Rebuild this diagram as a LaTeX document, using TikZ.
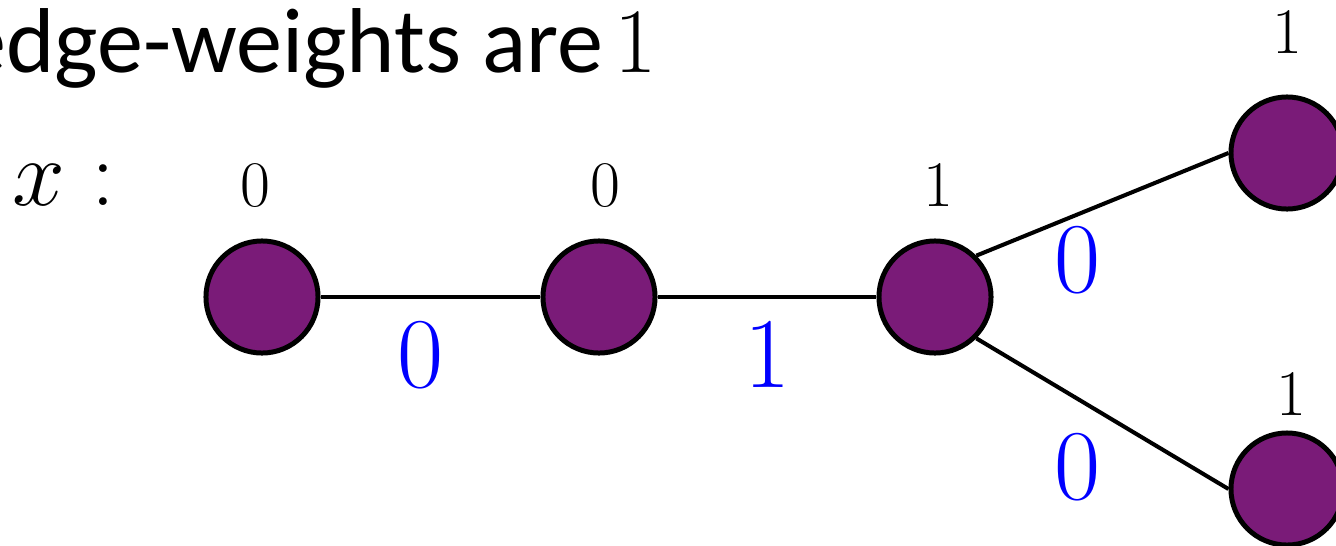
\RequirePackage{fix-cm}
\documentclass[tikz,border=0pt]{standalone}
\usepackage{fontspec}
\usepackage{xcolor}
\usepackage{tikz}
\usetikzlibrary{positioning}
\newfontfamily\headfont{Carlito}
\definecolor{vtxpurple}{RGB}{122,27,120}

\begin{document}
\begin{tikzpicture}[x=0.01cm, y=-0.01cm,
    vertex/.style={circle, draw=black, line width=1.42pt, fill=vtxpurple, minimum size=1.12cm, inner sep=0pt},
    val/.style={anchor=base, inner sep=0pt, font=\fontsize{18.5}{20}\selectfont},
    weight/.style={anchor=base, inner sep=0pt, text=blue, font=\fontsize{28.5}{30}\selectfont},
    link/.style={line width=1.15pt}]
  \useasboundingbox (0,0) rectangle (1336,545);
  \clip (0,0) rectangle (1336,545);

  % Title and vector name
  \node[anchor=base east, inner sep=0pt, font=\headfont\fontsize{26.2}{30}\selectfont] (title) at (657,72) {edge-weights are\kern0.12em$1$};
  \node[anchor=base west, inner sep=0pt, font=\fontsize{27}{28}\selectfont] (xname) at (12,205) {$x:$};

  % Vertices
  \node[vertex] (v1) at (262,297) {};
  \node[vertex] (v2) at (599,297) {};
  \node[vertex] (v3) at (935,297) {};
  \node[vertex] (v4) at (1287,153) {};
  \node[vertex] (v5) at (1287,489) {};

  % Values of x
  \node[val] (x1) at (255,206) {$0$};
  \node[val] (x2) at (605,206) {$0$};
  \node[val] (x3) at (938,206) {$1$};
  \node[val] (x4) at (1287,53) {$1$};
  \node[val] (x5) at (1291,415) {$1$};

  % Edges
  \draw[link] (v1) -- (v2);
  \draw[link] (v2) -- (v3);
  \draw[link] (v3.north east) -- (v4.west);
  \draw[link] (v3.south east) -- (v5.west);

  % Edge weights
  \node[weight] (w12) at (420,387) {$0$};
  \node[weight] (w23) at (767,387) {$1$};
  \node[weight] (w34) at (1077,292) {$0$};
  \node[weight] (w35) at (1077,499) {$0$};
\end{tikzpicture}
\end{document}
